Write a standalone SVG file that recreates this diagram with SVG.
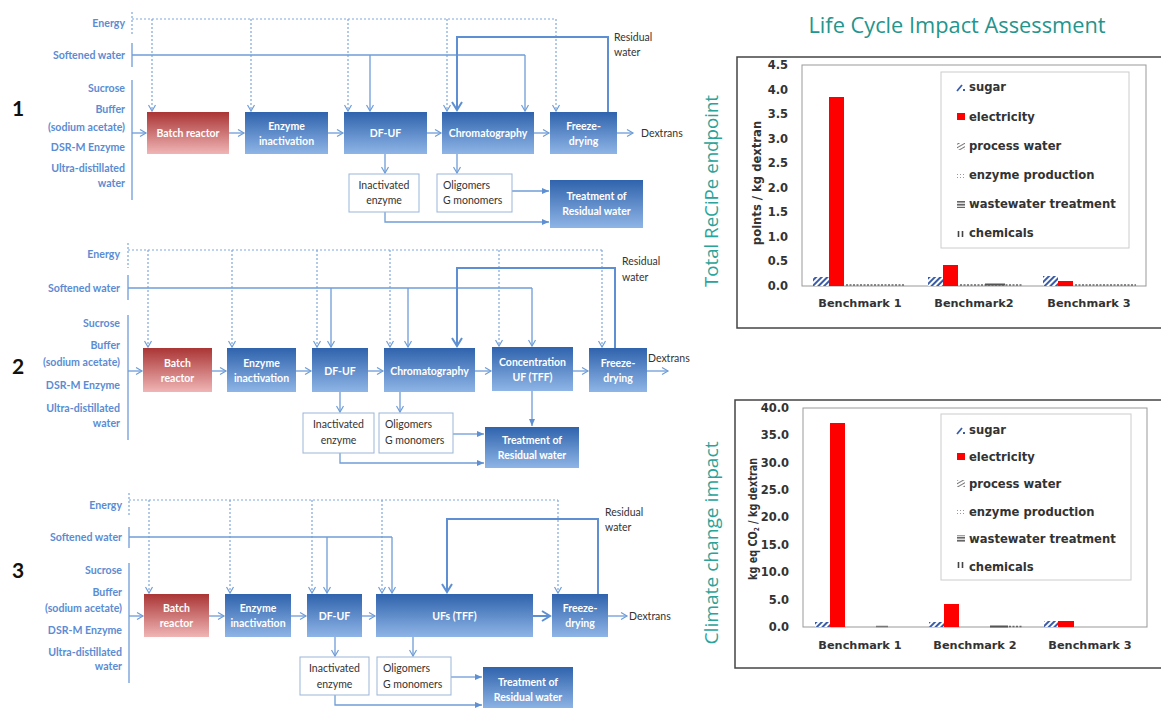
<svg xmlns="http://www.w3.org/2000/svg" width="1161" height="708" viewBox="0 0 1161 708">
<defs>
<style>
.ln{stroke:#6f9dd8;stroke-width:1.3;fill:none}
.dl{stroke:#7fa7dc;stroke-width:1.2;stroke-dasharray:2 2;fill:none}
.rw{stroke:#5d8fd2;stroke-width:2;fill:none}
.lbl{font-family:Lato,"Liberation Sans",sans-serif;font-weight:bold;font-size:10.6px;fill:#5b8cd3;text-anchor:end}
.num{font-family:Lato,"Liberation Sans",sans-serif;font-weight:bold;font-size:21px;fill:#111}
.bt{font-family:Lato,"Liberation Sans",sans-serif;font-weight:bold;font-size:10.5px;fill:#fff;text-anchor:middle}
.wb{fill:#fff;stroke:#9bb5d8;stroke-width:1}
.wt{font-family:Lato,"Liberation Sans",sans-serif;font-size:10.5px;fill:#333}
.wc{text-anchor:middle}
.dx{font-family:Lato,"Liberation Sans",sans-serif;font-size:10.5px;fill:#333}
.ct{font-family:"DejaVu Sans",Verdana,sans-serif;font-weight:bold;font-size:11.6px;fill:#333}
.tk{font-family:"DejaVu Sans",Verdana,sans-serif;font-weight:bold;font-size:11.5px;fill:#333;text-anchor:end}
.cat{font-family:"DejaVu Sans",Verdana,sans-serif;font-weight:bold;font-size:11.3px;fill:#333;text-anchor:middle}
.teal{font-family:"Open Sans","Liberation Sans",sans-serif;font-size:19px;fill:#2aa39a;text-anchor:middle}
.outer{fill:#fff;stroke:#444;stroke-width:1.5}
.plot{fill:#fff;stroke:#999;stroke-width:1}
.leg{fill:#fff;stroke:#ccc;stroke-width:1}
.el{fill:#ff0000}
.base{stroke:#666;stroke-width:1.5;stroke-dasharray:2 1.5;fill:none}
</style>
<linearGradient id="gb" x1="0" y1="0" x2="0" y2="1">
<stop offset="0" stop-color="#2f63ad"/>
<stop offset="1" stop-color="#8fb5e6"/>
</linearGradient>
<linearGradient id="gr" x1="0" y1="0" x2="0" y2="1">
<stop offset="0" stop-color="#aa3535"/>
<stop offset="1" stop-color="#f0b5b5"/>
</linearGradient>
<marker id="av" markerWidth="9" markerHeight="9" refX="7" refY="4.5" orient="auto" markerUnits="userSpaceOnUse">
<path d="M1,1 L7,4.5 L1,8" fill="none" stroke="#6f9dd8" stroke-width="1.2" stroke-dasharray="none"/>
</marker>
<marker id="avb" markerWidth="12" markerHeight="12" refX="9" refY="6" orient="auto" markerUnits="userSpaceOnUse">
<path d="M1,1 L9,6 L1,11" fill="none" stroke="#5d8fd2" stroke-width="2"/>
</marker>
<marker id="af" markerWidth="8" markerHeight="8" refX="7" refY="4" orient="auto" markerUnits="userSpaceOnUse">
<path d="M0,1 L7,4 L0,7 Z" fill="#5d8fd2"/>
</marker>
<pattern id="pSugar" width="4" height="4" patternUnits="userSpaceOnUse" patternTransform="rotate(45)">
<rect width="4" height="4" fill="#fff"/><rect width="2" height="4" fill="#3a5ca8"/>
</pattern>
<pattern id="pProc" width="3" height="3" patternUnits="userSpaceOnUse" patternTransform="rotate(-30)">
<rect width="3" height="3" fill="#fff"/><rect width="3" height="1" fill="#777"/>
</pattern>
<pattern id="pEnz" width="3" height="3" patternUnits="userSpaceOnUse">
<rect width="3" height="3" fill="#fff"/><rect width="1" height="1" fill="#999"/>
</pattern>
<pattern id="pWaste" width="3" height="3" patternUnits="userSpaceOnUse">
<rect width="3" height="3" fill="#ddd"/><rect width="3" height="1.5" fill="#666"/>
</pattern>
</defs>
<rect width="1161" height="708" fill="#fff"/>

<!-- ===================== FLOW 1 ===================== -->
<g id="flow1-labels">
<text class="num" x="12" y="116">1</text>
<text class="lbl" x="125" y="27">Energy</text>
<text class="lbl" x="125" y="59">Softened water</text>
<text class="lbl" x="125" y="92">Sucrose</text>
<text class="lbl" x="125" y="113">Buffer</text>
<text class="lbl" x="125" y="131">(sodium acetate)</text>
<text class="lbl" x="125" y="151">DSR-M Enzyme</text>
<text class="lbl" x="125" y="172">Ultra-distillated</text>
<text class="lbl" x="125" y="187">water</text>
<text class="wt" x="614" y="41">Residual</text>
<text class="wt" x="614" y="56">water</text>
</g>
<g id="f1-connectors">
<path class="dl" d="M132,12 V35"/>
<path class="ln" d="M132,43 V67"/>
<path class="ln" d="M132,80 V200"/>
<path class="dl" d="M132,19 H556"/>
<path class="dl" d="M152,19 V111" marker-end="url(#av)"/>
<path class="dl" d="M251,19 V111" marker-end="url(#av)"/>
<path class="dl" d="M348,19 V111" marker-end="url(#av)"/>
<path class="dl" d="M447,19 V111" marker-end="url(#av)"/>
<path class="dl" d="M556,19 V111" marker-end="url(#av)"/>
<path class="ln" d="M132,55 H525"/>
<path class="ln" d="M370,55 V111" marker-end="url(#av)"/>
<path class="ln" d="M525,55 V111" marker-end="url(#av)"/>
<path class="rw" d="M608,112 V37 H457 V110" marker-end="url(#avb)"/>
<path class="ln" d="M132,133 H146" marker-end="url(#av)"/>
<path class="ln" d="M229,133 H244" marker-end="url(#av)"/>
<path class="ln" d="M328,133 H343" marker-end="url(#av)"/>
<path class="ln" d="M427,133 H441" marker-end="url(#av)"/>
<path class="ln" d="M534,133 H549" marker-end="url(#av)"/>
<path class="ln" d="M617,133 H633" marker-end="url(#av)"/>
<path class="ln" d="M385,154 V173" marker-end="url(#av)"/>
<path class="ln" d="M457,154 V173" marker-end="url(#av)"/>
<path class="ln" d="M512,191 H549" marker-end="url(#af)"/>
<path class="ln" d="M385,212 V222 H549" marker-end="url(#af)"/>
</g>
<g id="f1-batch"><rect x="147" y="112" width="82" height="42" fill="url(#gr)"/><text class="bt" x="188" y="137">Batch reactor</text></g>
<g id="f1-enzyme"><rect x="245" y="112" width="83" height="42" fill="url(#gb)"/><text class="bt" x="286.5" y="130">Enzyme</text><text class="bt" x="286.5" y="145">inactivation</text></g>
<g id="f1-dfuf"><rect x="344" y="112" width="83" height="42" fill="url(#gb)"/><text class="bt" x="385.5" y="137">DF-UF</text></g>
<g id="f1-chrom"><rect x="442" y="112" width="92" height="42" fill="url(#gb)"/><text class="bt" x="488" y="137">Chromatography</text></g>
<g id="f1-freeze"><rect x="550" y="112" width="67" height="42" fill="url(#gb)"/><text class="bt" x="583.5" y="130">Freeze-</text><text class="bt" x="583.5" y="145">drying</text></g>
<g id="f1-dextrans"><text class="dx" x="641" y="137">Dextrans</text></g>
<g id="f1-inact"><rect class="wb" x="349" y="174" width="70" height="38"/><text class="wt wc" x="384" y="189">Inactivated</text><text class="wt wc" x="384" y="204">enzyme</text></g>
<g id="f1-olig"><rect class="wb" x="437" y="174" width="75" height="38"/><text class="wt" x="443" y="189">Oligomers</text><text class="wt" x="443" y="204">G monomers</text></g>
<g id="f1-treat"><rect x="550" y="180" width="93" height="48" fill="url(#gb)"/><text class="bt" x="596.5" y="200">Treatment of</text><text class="bt" x="596.5" y="215">Residual water</text></g>

<!-- ===================== FLOW 2 ===================== -->
<g id="flow2-labels">
<text class="num" x="12" y="374">2</text>
<text class="lbl" x="120" y="258">Energy</text>
<text class="lbl" x="120" y="292">Softened water</text>
<text class="lbl" x="120" y="327">Sucrose</text>
<text class="lbl" x="120" y="349">Buffer</text>
<text class="lbl" x="120" y="366">(sodium acetate)</text>
<text class="lbl" x="120" y="389">DSR-M Enzyme</text>
<text class="lbl" x="120" y="412">Ultra-distillated</text>
<text class="lbl" x="120" y="427">water</text>
<text class="wt" x="622" y="265">Residual</text>
<text class="wt" x="622" y="281">water</text>
</g>
<g id="f2-connectors">
<path class="dl" d="M128,243 V268"/>
<path class="ln" d="M128,275 V300"/>
<path class="ln" d="M128,315 V440"/>
<path class="dl" d="M128,250 H602"/>
<path class="dl" d="M148,250 V347" marker-end="url(#av)"/>
<path class="dl" d="M232,250 V347" marker-end="url(#av)"/>
<path class="dl" d="M317,250 V347" marker-end="url(#av)"/>
<path class="dl" d="M390,250 V347" marker-end="url(#av)"/>
<path class="dl" d="M499,250 V346" marker-end="url(#av)"/>
<path class="dl" d="M602,250 V347" marker-end="url(#av)"/>
<path class="ln" d="M128,288 H532"/>
<path class="ln" d="M331,288 V347" marker-end="url(#av)"/>
<path class="ln" d="M408,288 V347" marker-end="url(#av)"/>
<path class="ln" d="M532,288 V346" marker-end="url(#av)"/>
<path class="rw" d="M615,348 V268 H457 V346" marker-end="url(#avb)"/>
<path class="ln" d="M128,371 H142" marker-end="url(#av)"/>
<path class="ln" d="M212,371 H226" marker-end="url(#av)"/>
<path class="ln" d="M296,371 H311" marker-end="url(#av)"/>
<path class="ln" d="M368,371 H383" marker-end="url(#av)"/>
<path class="ln" d="M475,371 H491" marker-end="url(#av)"/>
<path class="ln" d="M573,371 H588" marker-end="url(#av)"/>
<path class="ln" d="M647,371 H668" marker-end="url(#av)"/>
<path class="ln" d="M340,392 V412" marker-end="url(#av)"/>
<path class="ln" d="M400,392 V412" marker-end="url(#av)"/>
<path class="ln" d="M532,391 V426" marker-end="url(#af)"/>
<path class="ln" d="M453,434 H484" marker-end="url(#af)"/>
<path class="ln" d="M340,453 V463 H484" marker-end="url(#af)"/>
</g>
<g id="f2-batch"><rect x="143" y="348" width="69" height="44" fill="url(#gr)"/><text class="bt" x="177.5" y="367">Batch</text><text class="bt" x="177.5" y="382">reactor</text></g>
<g id="f2-enzyme"><rect x="227" y="348" width="69" height="44" fill="url(#gb)"/><text class="bt" x="261.5" y="367">Enzyme</text><text class="bt" x="261.5" y="382">inactivation</text></g>
<g id="f2-dfuf"><rect x="312" y="348" width="56" height="44" fill="url(#gb)"/><text class="bt" x="340" y="375">DF-UF</text></g>
<g id="f2-chrom"><rect x="384" y="348" width="91" height="44" fill="url(#gb)"/><text class="bt" x="429.5" y="375">Chromatography</text></g>
<g id="f2-conc"><rect x="492" y="347" width="81" height="44" fill="url(#gb)"/><text class="bt" x="532.5" y="366">Concentration</text><text class="bt" x="532.5" y="381">UF (TFF)</text></g>
<g id="f2-freeze"><rect x="589" y="348" width="58" height="44" fill="url(#gb)"/><text class="bt" x="618" y="367">Freeze-</text><text class="bt" x="618" y="382">drying</text></g>
<g id="f2-dextrans"><text class="dx" x="648" y="362">Dextrans</text></g>
<g id="f2-inact"><rect class="wb" x="303" y="413" width="71" height="40"/><text class="wt wc" x="338.5" y="428">Inactivated</text><text class="wt wc" x="338.5" y="444">enzyme</text></g>
<g id="f2-olig"><rect class="wb" x="379" y="413" width="74" height="40"/><text class="wt" x="385" y="428">Oligomers</text><text class="wt" x="385" y="444">G monomers</text></g>
<g id="f2-treat"><rect x="485" y="427" width="94" height="41" fill="url(#gb)"/><text class="bt" x="532" y="444">Treatment of</text><text class="bt" x="532" y="459">Residual water</text></g>

<!-- ===================== FLOW 3 ===================== -->
<g id="flow3-labels">
<text class="num" x="12" y="578">3</text>
<text class="lbl" x="122" y="509">Energy</text>
<text class="lbl" x="122" y="541">Softened water</text>
<text class="lbl" x="122" y="574">Sucrose</text>
<text class="lbl" x="122" y="596">Buffer</text>
<text class="lbl" x="122" y="612">(sodium acetate)</text>
<text class="lbl" x="122" y="634">DSR-M Enzyme</text>
<text class="lbl" x="122" y="656">Ultra-distillated</text>
<text class="lbl" x="122" y="670">water</text>
<text class="wt" x="605" y="516">Residual</text>
<text class="wt" x="605" y="531">water</text>
</g>
<g id="f3-connectors">
<path class="dl" d="M129,493 V517"/>
<path class="ln" d="M129,527 V548"/>
<path class="ln" d="M129,563 V683"/>
<path class="dl" d="M129,500 H558"/>
<path class="dl" d="M149,500 V593" marker-end="url(#av)"/>
<path class="dl" d="M230,500 V593" marker-end="url(#av)"/>
<path class="dl" d="M312,500 V593" marker-end="url(#av)"/>
<path class="dl" d="M382,500 V593" marker-end="url(#av)"/>
<path class="dl" d="M558,500 V593" marker-end="url(#av)"/>
<path class="ln" d="M129,537 H392"/>
<path class="ln" d="M327,537 V593" marker-end="url(#av)"/>
<path class="ln" d="M392,537 V593" marker-end="url(#av)"/>
<path class="rw" d="M598,594 V519 H447 V592" marker-end="url(#avb)"/>
<path class="ln" d="M129,616 H143" marker-end="url(#av)"/>
<path class="ln" d="M209,616 H224" marker-end="url(#av)"/>
<path class="ln" d="M291,616 H306" marker-end="url(#av)"/>
<path class="ln" d="M362,616 H375" marker-end="url(#av)"/>
<path class="rw" d="M533,616 H550" marker-end="url(#avb)"/>
<path class="ln" d="M608,616 H627" marker-end="url(#av)"/>
<path class="ln" d="M335,637 V656" marker-end="url(#av)"/>
<path class="ln" d="M413,637 V656" marker-end="url(#av)"/>
<path class="ln" d="M451,677 H482" marker-end="url(#af)"/>
<path class="ln" d="M335,695 V705 H482" marker-end="url(#af)"/>
</g>
<g id="f3-batch"><rect x="144" y="594" width="65" height="43" fill="url(#gr)"/><text class="bt" x="176.5" y="612">Batch</text><text class="bt" x="176.5" y="627">reactor</text></g>
<g id="f3-enzyme"><rect x="225" y="594" width="66" height="43" fill="url(#gb)"/><text class="bt" x="258" y="612">Enzyme</text><text class="bt" x="258" y="627">inactivation</text></g>
<g id="f3-dfuf"><rect x="307" y="594" width="55" height="43" fill="url(#gb)"/><text class="bt" x="334.5" y="620">DF-UF</text></g>
<g id="f3-ufs"><rect x="376" y="594" width="157" height="43" fill="url(#gb)"/><text class="bt" x="454.5" y="620">UFs (TFF)</text></g>
<g id="f3-freeze"><rect x="552" y="594" width="56" height="43" fill="url(#gb)"/><text class="bt" x="580" y="612">Freeze-</text><text class="bt" x="580" y="627">drying</text></g>
<g id="f3-dextrans"><text class="dx" x="629" y="620">Dextrans</text></g>
<g id="f3-inact"><rect class="wb" x="300" y="657" width="69" height="38"/><text class="wt wc" x="334.5" y="672">Inactivated</text><text class="wt wc" x="334.5" y="688">enzyme</text></g>
<g id="f3-olig"><rect class="wb" x="377" y="657" width="74" height="38"/><text class="wt" x="383" y="672">Oligomers</text><text class="wt" x="383" y="688">G monomers</text></g>
<g id="f3-treat"><rect x="483" y="667" width="90" height="42" fill="url(#gb)"/><text class="bt" x="528" y="686">Treatment of</text><text class="bt" x="528" y="701">Residual water</text></g>

<!-- ===================== CHARTS ===================== -->
<g id="title"><text x="957" y="33" font-family="'Open Sans','Liberation Sans',sans-serif" font-size="21" fill="#23958d" text-anchor="middle" textLength="297" lengthAdjust="spacingAndGlyphs">Life Cycle Impact Assessment</text></g>

<g id="chart1">
<rect class="outer" x="737" y="57" width="430" height="271"/>
<text class="teal" transform="translate(718,191) rotate(-90)" textLength="192" lengthAdjust="spacingAndGlyphs">Total ReCiPe endpoint</text>
<rect class="plot" x="802" y="65" width="344" height="221"/>
<text class="ct" transform="translate(761,183) rotate(-90)" text-anchor="middle" font-size="11">points / kg dextran</text>
<g>
<text class="tk" x="788" y="69">4.5</text>
<text class="tk" x="788" y="94">4.0</text>
<text class="tk" x="788" y="118">3.5</text>
<text class="tk" x="788" y="143">3.0</text>
<text class="tk" x="788" y="167">2.5</text>
<text class="tk" x="788" y="192">2.0</text>
<text class="tk" x="788" y="216">1.5</text>
<text class="tk" x="788" y="241">1.0</text>
<text class="tk" x="788" y="265">0.5</text>
<text class="tk" x="788" y="290">0.0</text>
</g>
<rect x="813" y="277" width="16" height="9" fill="url(#pSugar)"/>
<rect class="el" x="829" y="97" width="15" height="189"/>
<rect x="928" y="277" width="15" height="9" fill="url(#pSugar)"/>
<rect class="el" x="943" y="265" width="15" height="21"/>
<rect x="1043" y="276" width="15" height="10" fill="url(#pSugar)"/>
<rect class="el" x="1058" y="281" width="15" height="5"/>
<path class="base" d="M846,285 H905 M960,285 H1022 M1075,285 H1136"/>
<path d="M985,284.5 H1005" stroke="#555" stroke-width="2"/>
<text class="cat" x="860" y="307">Benchmark 1</text>
<text class="cat" x="974" y="307">Benchmark2</text>
<text class="cat" x="1089" y="307">Benchmark 3</text>
<rect class="leg" x="941" y="72" width="188" height="176"/>
<path d="M957,91 L962,85" stroke="#3a5ca8" stroke-width="1.8"/><rect x="963" y="89" width="2" height="2" fill="#3a5ca8"/>
<rect class="el" x="957" y="113" width="8" height="7"/>
<rect x="957" y="143" width="8" height="7" fill="url(#pProc)"/>
<rect x="957" y="172" width="8" height="7" fill="url(#pEnz)"/>
<rect x="957" y="201" width="8" height="7" fill="url(#pWaste)"/>
<path d="M958.5,231 V237 M962.5,231 V237" stroke="#444" stroke-width="1.6"/>
<text class="ct" x="969" y="91">sugar</text>
<text class="ct" x="969" y="121">electricity</text>
<text class="ct" x="969" y="150">process water</text>
<text class="ct" x="969" y="179">enzyme production</text>
<text class="ct" x="969" y="208">wastewater treatment</text>
<text class="ct" x="969" y="237">chemicals</text>
</g>

<g id="chart2">
<rect class="outer" x="735" y="400" width="432" height="268"/>
<text class="teal" transform="translate(718,543) rotate(-90)" textLength="203" lengthAdjust="spacingAndGlyphs">Climate change impact</text>
<rect class="plot" x="803" y="408" width="344" height="219"/>
<text class="ct" transform="translate(757,519) rotate(-90)" text-anchor="middle" font-size="10.5" textLength="122" lengthAdjust="spacingAndGlyphs">kg eq CO<tspan font-size="7" dy="2">2</tspan><tspan dy="-2"> / kg dextran</tspan></text>
<g>
<text class="tk" x="789" y="412">40.0</text>
<text class="tk" x="789" y="439">35.0</text>
<text class="tk" x="789" y="467">30.0</text>
<text class="tk" x="789" y="494">25.0</text>
<text class="tk" x="789" y="521">20.0</text>
<text class="tk" x="789" y="549">15.0</text>
<text class="tk" x="789" y="576">10.0</text>
<text class="tk" x="789" y="604">5.0</text>
<text class="tk" x="789" y="631">0.0</text>
</g>
<rect x="815" y="622" width="15" height="5" fill="url(#pSugar)"/>
<rect class="el" x="830" y="423" width="15" height="204"/>
<rect x="929" y="622" width="15" height="5" fill="url(#pSugar)"/>
<rect class="el" x="944" y="604" width="15" height="23"/>
<rect x="1044" y="621" width="14" height="6" fill="url(#pSugar)"/>
<rect class="el" x="1058" y="621" width="16" height="6"/>
<path d="M876,626.5 H888" stroke="#777" stroke-width="1.5"/>
<path d="M990,626.5 H1008" stroke="#555" stroke-width="2"/>
<path class="base" d="M1009,626.5 H1022"/>
<text class="cat" x="860" y="649">Benchmark 1</text>
<text class="cat" x="975" y="649">Benchmark 2</text>
<text class="cat" x="1090" y="649">Benchmark 3</text>
<rect class="leg" x="941" y="414" width="190" height="166"/>
<path d="M957,434 L962,428" stroke="#3a5ca8" stroke-width="1.8"/><rect x="963" y="432" width="2" height="2" fill="#3a5ca8"/>
<rect class="el" x="957" y="453" width="8" height="7"/>
<rect x="957" y="480" width="8" height="7" fill="url(#pProc)"/>
<rect x="957" y="508" width="8" height="7" fill="url(#pEnz)"/>
<rect x="957" y="535" width="8" height="7" fill="url(#pWaste)"/>
<path d="M958.5,562 V568 M962.5,562 V568" stroke="#444" stroke-width="1.6"/>
<text class="ct" x="969" y="434">sugar</text>
<text class="ct" x="969" y="461">electricity</text>
<text class="ct" x="969" y="488">process water</text>
<text class="ct" x="969" y="516">enzyme production</text>
<text class="ct" x="969" y="543">wastewater treatment</text>
<text class="ct" x="969" y="571">chemicals</text>
</g>
</svg>
